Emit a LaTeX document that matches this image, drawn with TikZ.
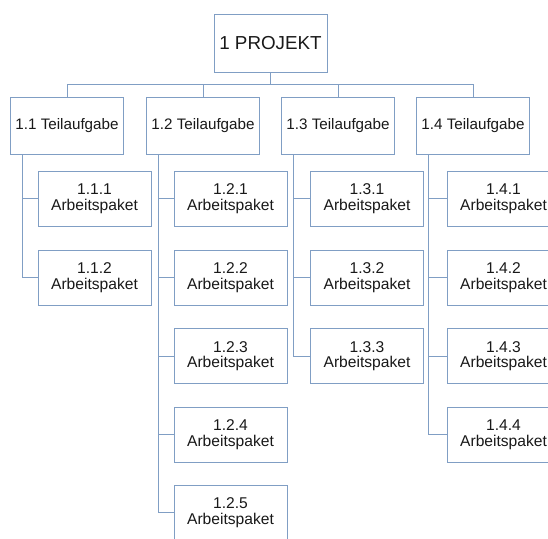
\documentclass[tikz,border=0pt]{standalone}
\usepackage{fontspec}
\setmainfont{Liberation Sans}
\definecolor{wbsline}{RGB}{128,158,196}
\definecolor{wbstext}{RGB}{25,25,25}
\begin{document}
\begin{tikzpicture}[x=1pt,y=-1pt,
  box/.style={draw=wbsline,line width=1pt,fill=white,rectangle,inner sep=0pt,text=wbstext,align=center},
  topbox/.style={box,minimum width=113pt,minimum height=58pt,font=\fontsize{18.8}{20}\selectfont},
  taskbox/.style={box,minimum width=113pt,minimum height=57pt,font=\fontsize{15.2}{16}\selectfont},
  pkgbox/.style={box,minimum width=113pt,minimum height=55pt,font=\fontsize{15.6}{15.5}\selectfont},
  conn/.style={draw=wbsline,line width=1pt}]
\clip (0,0) rectangle (548,538);
\fill[white] (0,0) rectangle (548,538);
% top
\node[topbox] (top) at (270.5,43) {1 PROJEKT};
% level 2
\node[taskbox] (l11) at (67,125.5) {1.1 Teilaufgabe};
\node[taskbox] (l12) at (203,125.5) {1.2 Teilaufgabe};
\node[taskbox] (l13) at (338,125.5) {1.3 Teilaufgabe};
\node[taskbox] (l14) at (473,125.5) {1.4 Teilaufgabe};
% level 3
\node[pkgbox] (p111) at (94.5,198.5) {1.1.1\\Arbeitspaket};
\node[pkgbox] (p112) at (94.5,277.5) {1.1.2\\Arbeitspaket};
\node[pkgbox] (p121) at (230.5,198.5) {1.2.1\\Arbeitspaket};
\node[pkgbox] (p122) at (230.5,277.5) {1.2.2\\Arbeitspaket};
\node[pkgbox] (p123) at (230.5,356) {1.2.3\\Arbeitspaket};
\node[pkgbox] (p124) at (230.5,434.5) {1.2.4\\Arbeitspaket};
\node[pkgbox] (p125) at (230.5,512.5) {1.2.5\\Arbeitspaket};
\node[pkgbox] (p131) at (367,198.5) {1.3.1\\Arbeitspaket};
\node[pkgbox] (p132) at (367,277.5) {1.3.2\\Arbeitspaket};
\node[pkgbox] (p133) at (367,356) {1.3.3\\Arbeitspaket};
\node[pkgbox] (p141) at (503.5,198.5) {1.4.1\\Arbeitspaket};
\node[pkgbox] (p142) at (503.5,277.5) {1.4.2\\Arbeitspaket};
\node[pkgbox] (p143) at (503.5,356) {1.4.3\\Arbeitspaket};
\node[pkgbox] (p144) at (503.5,434.5) {1.4.4\\Arbeitspaket};
% bus
\coordinate (bus) at ([yshift=-12pt]top.south);
\draw[conn] (top.south) -- (bus);
\foreach \t in {l11,l12,l13,l14} \draw[conn] (bus) -| (\t.north);
% trunks
\foreach \t/\kids in {l11/{p111,p112},l12/{p121,p122,p123,p124,p125},l13/{p131,p132,p133},l14/{p141,p142,p143,p144}}{
  \foreach \k in \kids \draw[conn] ([xshift=12.5pt]\t.south west) |- (\k.west);
}
\end{tikzpicture}
\end{document}
